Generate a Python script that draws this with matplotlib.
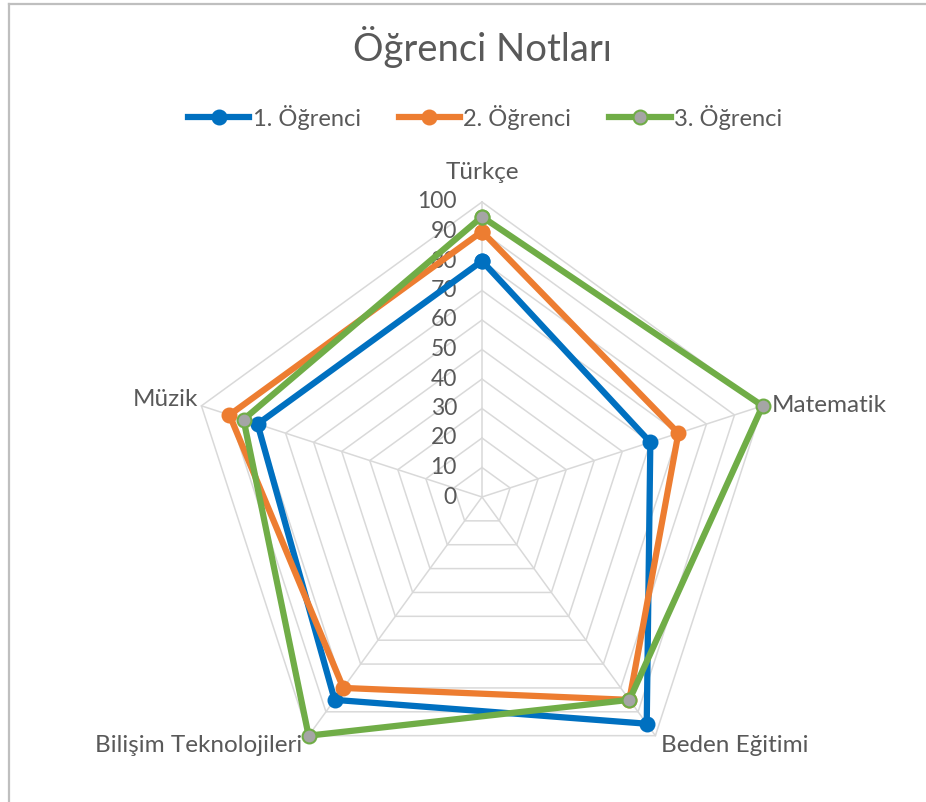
import numpy as np
import matplotlib.pyplot as plt
from matplotlib.lines import Line2D

subjects = ["Türkçe", "Matematik", "Beden Eğitimi", "Bilişim Teknolojileri", "Müzik"]
student_names = ["1. Öğrenci", "2. Öğrenci", "3. Öğrenci"]
student1 = [80, 60, 95, 85, 80]
student2 = [90, 70, 85, 80, 90]
student3 = [95, 100, 85, 100, 85]
ticks = list(range(0, 101, 10))

plt.rcParams["font.family"] = ["Lato", "DejaVu Sans"]
TEXT = "#595959"
GRID = "#D9D9D9"

W, H, DPI = 926, 802, 100
cx, cy = 482, 497          # radar centre in pixels (from top-left)
px_per_unit = 2.95

fig = plt.figure(figsize=(W / DPI, H / DPI), dpi=DPI)
ax = fig.add_axes([0, 0, 1, 1])
ax.set_xlim(-cx / px_per_unit, (W - cx) / px_per_unit)
ax.set_ylim(-(H - cy) / px_per_unit, cy / px_per_unit)
ax.axis("off")

n = len(subjects)
angles = np.pi / 2 - 2 * np.pi * np.arange(n) / n


def to_xy(values):
    r = np.asarray(values, dtype=float)
    x = r * np.cos(angles)
    y = r * np.sin(angles)
    return np.append(x, x[0]), np.append(y, y[0])


# pentagon grid and spokes
for t in ticks[1:]:
    gx, gy = to_xy([t] * n)
    ax.plot(gx, gy, color=GRID, lw=1.1, zorder=1)
for a in angles:
    ax.plot([0, 100 * np.cos(a)], [0, 100 * np.sin(a)], color=GRID, lw=1.1, zorder=1)

# radial tick labels along the top spoke
for t in ticks:
    ax.text(-8.5, t, str(t), ha="right", va="center", fontsize=16.5, color=TEXT, zorder=2)

# category labels around the outer ring
LABEL_FS = 17.5
offsets = [(0, 10, "center"), (3, 0, "left"), (2, -3.5, "left"),
           (-2, -3.5, "right"), (-1, 2, "right")]
for name, a, (dx, dy, ha) in zip(subjects, angles, offsets):
    ax.text(100 * np.cos(a) + dx, 100 * np.sin(a) + dy, name, ha=ha, va="center",
            fontsize=LABEL_FS, color=TEXT)

styles = [
    dict(color="#0070C0", mfc="#0070C0", mec="#0070C0"),
    dict(color="#ED7D31", mfc="#ED7D31", mec="#ED7D31"),
    dict(color="#70AD47", mfc="#A5A5A5", mec="#70AD47"),
]
handles = []
for vals, st, name in zip([student1, student2, student3], styles, student_names):
    x, y = to_xy(vals)
    ax.plot(x, y, lw=4.5, marker="o", ms=10, mew=1.5, solid_joinstyle="round",
            zorder=3, **st)
    handles.append(Line2D([], [], lw=4.5, marker="o", ms=10, mew=1.5, label=name, **st))

fig.text(cx / W, 1 - 47 / H, "Öğrenci Notları", ha="center", va="center",
         fontsize=27.5, color=TEXT)

fig.legend(handles=handles, loc="center", bbox_to_anchor=(485 / W, 1 - 117 / H), ncol=3,
           frameon=False, fontsize=17, handlelength=2.6, handletextpad=0.15,
           columnspacing=1.6, labelcolor=TEXT)

# chart-area frame (left and top edges visible)
fig.add_artist(Line2D([8.5 / W, 8.5 / W], [0, 1 - 3.5 / H], transform=fig.transFigure,
                      color="#BFBFBF", lw=1.6))
fig.add_artist(Line2D([8.5 / W, 1], [1 - 3.5 / H, 1 - 3.5 / H], transform=fig.transFigure,
                      color="#BFBFBF", lw=1.6))

fig.savefig("out.png", dpi=DPI, facecolor="white")
